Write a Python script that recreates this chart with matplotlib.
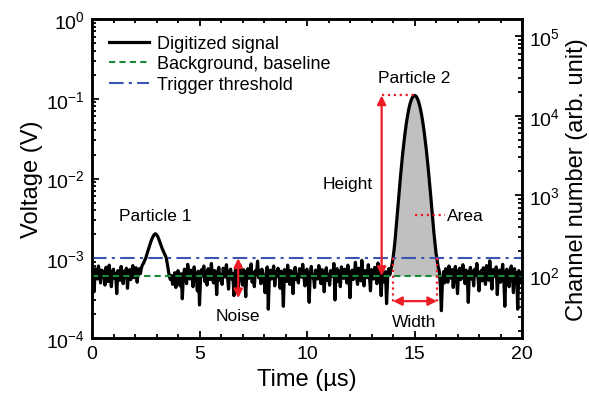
import numpy as np
import matplotlib
matplotlib.use("Agg")
import matplotlib.pyplot as plt
from matplotlib.ticker import MultipleLocator, LogLocator

plt.rcParams["font.family"] = ["Liberation Sans", "DejaVu Sans"]
plt.rcParams["mathtext.default"] = "regular"

# Digitized signal, in units of 1e-4 V, sampled every 0.05 us from 0 to 20 us
t_step = 0.05
noise_a = [5.2, 6.8, 3.8, 7.4, 6.1, 5.5, 8.0, 6.6, 4.9, 7.1,
           5.8, 6.9, 4.6, 7.7, 6.3, 5.1, 8.2, 6.0, 4.4, 6.7,
           7.3, 5.6, 6.4, 3.6, 7.0, 6.2, 5.3, 7.9, 6.5, 4.8,
           6.9, 5.9, 7.5, 4.2, 6.6, 7.2, 5.4, 6.8, 8.1, 5.7,
           6.3, 7.6, 5.0, 6.9, 7.4, 6.4]
particle_1 = [7.6, 8.3, 8.7, 9.4, 10.0, 11.2, 12.3, 13.6, 15.0, 16.5,
              17.8, 19.0, 19.9, 20.3, 19.8, 18.9, 17.6, 16.2, 14.8, 13.5,
              12.6, 11.7, 11.0, 10.2, 8.6, 7.0, 5.8]
noise_b = [5.4, 6.1, 4.7, 5.0, 6.6, 4.3, 5.8, 7.0, 5.2, 4.5,
           6.4, 3.1, 5.9, 7.3, 6.0, 4.8, 8.4, 6.7, 5.5, 7.1,
           6.2, 4.4, 7.8, 6.5, 5.7, 3.9, 6.9, 2.6, 5.6, 7.2,
           6.0, 8.0, 5.1, 6.7, 4.6, 7.4, 6.3, 5.4, 8.6, 6.1,
           4.9, 7.0, 6.4, 3.5, 6.8, 7.7, 5.3, 6.2, 4.7, 7.5,
           6.6, 5.8, 8.3, 6.0, 4.1, 6.9, 7.3, 5.5, 6.4, 3.4,
           6.7, 7.6, 5.2, 4.0, 6.5, 8.1, 6.0, 4.6, 7.2, 5.9,
           3.3, 6.8, 7.4, 5.6, 6.2, 8.5, 5.0, 6.6, 4.4, 7.0,
           6.3, 9.2, 5.7, 6.9, 4.8, 7.3, 6.1, 5.3, 3.7, 6.7,
           7.8, 2.3, 6.0, 7.1, 5.5, 6.4, 8.0, 4.5, 6.8, 5.9,
           7.5, 6.2, 4.2, 6.9, 5.6, 2.5, 7.2, 6.5, 5.1, 8.2,
           6.0, 4.7, 7.0, 6.3, 3.6, 6.8, 7.7, 5.4, 6.1, 4.9,
           7.4, 6.6, 5.8, 8.4, 6.2, 4.5, 6.9, 7.3, 5.2, 2.8,
           6.4, 7.9, 5.7, 6.1, 4.3, 7.1, 6.7, 5.5, 8.1, 6.0,
           4.8, 7.2, 6.5, 3.8, 6.8, 7.6, 5.3, 6.3, 4.6, 7.0,
           6.2, 5.9, 8.6, 3.0, 6.6, 7.4, 5.1, 6.9, 4.4, 7.8,
           6.1, 5.6, 7.3, 6.4, 4.9, 8.2, 5.8, 3.2, 6.7, 7.1,
           5.4, 6.3, 8.9, 6.0, 4.7, 7.5, 6.6, 5.2, 9.4, 6.2,
           4.5, 7.0, 6.8, 5.7, 8.3, 6.1, 3.9, 7.2, 6.4, 5.5,
           7.7, 6.0, 4.8, 8.7, 6.5, 5.9, 3.4, 7.1, 6.3, 5.0,
           6.8, 2.7, 5.6, 7.4, 6.2]
particle_2 = [7.2, 8.2, 10.0, 12.9, 17.5, 24.9, 36, 52, 76, 108,
              151, 206, 274, 357, 451, 556, 666, 776, 880, 970,
              1040, 1085, 1100, 1088, 1048, 982, 896, 798, 690, 582,
              478, 383, 298, 228, 170, 123, 88, 62, 43, 30,
              21, 15.4, 11.6, 9.6, 7.8, 6.9]
noise_c = [4.6, 2.2, 5.3, 6.8, 4.9, 7.4, 6.1, 5.0, 8.0, 6.5,
           5.6, 7.2, 4.3, 6.6, 7.9, 5.8, 3.6, 6.9, 7.5, 5.4,
           6.2, 8.3, 6.0, 4.8, 7.1, 6.4, 2.8, 6.7, 7.7, 5.5,
           6.9, 4.5, 7.3, 6.1, 8.6, 5.7, 3.9, 6.3, 7.0, 5.2,
           7.6, 6.0, 4.7, 8.1, 6.6, 5.3, 9.3, 6.2, 4.1, 7.2,
           6.5, 5.9, 7.8, 3.5, 6.8, 7.1, 5.0, 6.4, 8.4, 5.6,
           2.5, 6.7, 7.3, 5.8, 4.4, 6.9, 8.0, 6.1, 3.7, 7.4,
           5.5, 6.6, 2.3, 7.0, 6.2, 4.9, 6.4]

baseline = 6e-4
threshold = 1e-3
peak2_time = 15.0
peak2_height = 0.11
width_start, width_end = 14.0, 16.05
height_arrow_x = 13.47
noise_arrow_x = 6.8
noise_low = 3.16e-4
width_arrow_y = 2.9e-4
channel_factor = 10 ** 5.2125  # channel number per volt

signal = np.array(noise_a + particle_1 + noise_b + particle_2 + noise_c) * 1e-4
time = np.arange(len(signal)) * t_step

red = "#ee1c24"

fig = plt.figure(figsize=(5.89, 4.06), dpi=100)
ax = fig.add_axes([0.1562, 0.165, 0.7301, 0.7857])

# shaded area of particle 2
mask = (time >= width_start) & (time <= width_end)
ax.fill_between(time[mask], baseline, signal[mask], color="#c0c0c0", lw=0, zorder=1)

ax.plot(time, signal, color="black", lw=2.3, label="Digitized signal", zorder=2)
ax.axhline(baseline, color="#1a8a3a", ls=(0, (3, 2)), lw=1.5,
           label="Background, baseline", zorder=3)
ax.axhline(threshold, color="#3a55b4", ls=(0, (7, 2.5, 1.5, 2.5)), lw=1.5,
           label="Trigger threshold", zorder=3)

arrow = dict(arrowstyle="<|-|>", color=red, lw=1.6, mutation_scale=13,
             shrinkA=0, shrinkB=0)
# height
ax.annotate("", xy=(height_arrow_x, peak2_height), xytext=(height_arrow_x, baseline),
            arrowprops=arrow, zorder=5)
ax.plot([height_arrow_x, peak2_time], [peak2_height, peak2_height], color=red,
        ls=":", lw=1.6, zorder=5)
# width
ax.plot([width_start, width_start], [threshold, width_arrow_y * 0.92], color=red,
        ls=":", lw=1.6, zorder=5)
ax.plot([width_end, width_end], [threshold, width_arrow_y * 0.92], color=red,
        ls=":", lw=1.6, zorder=5)
ax.annotate("", xy=(width_start, width_arrow_y), xytext=(width_end, width_arrow_y),
            arrowprops=arrow, zorder=5)
# noise
ax.annotate("", xy=(noise_arrow_x, threshold), xytext=(noise_arrow_x, noise_low),
            arrowprops=arrow, zorder=5)
# area
ax.plot([15.0, 16.4], [3.45e-3, 3.45e-3], color=red, ls=":", lw=1.6, zorder=5)

fs = 12.5
ax.text(2.95, 3.45e-3, "Particle 1", ha="center", va="center", fontsize=fs)
ax.text(15.0, 0.183, "Particle 2", ha="center", va="center", fontsize=fs)
ax.text(16.5, 3.45e-3, "Area", ha="left", va="center", fontsize=fs)
ax.text(13.05, 8.7e-3, "Height", ha="right", va="center", fontsize=fs)
ax.text(15.0, 1.63e-4, "Width", ha="center", va="center", fontsize=fs)
ax.text(noise_arrow_x, 1.94e-4, "Noise", ha="center", va="center", fontsize=fs)

ax.set_yscale("log")
ax.set_xlim(0, 20)
ax.set_ylim(1e-4, 1)
ax.xaxis.set_major_locator(MultipleLocator(5))
ax.xaxis.set_minor_locator(MultipleLocator(1))
ax.yaxis.set_major_locator(LogLocator(base=10, numticks=10))
ax.yaxis.set_minor_locator(LogLocator(base=10, subs=np.arange(2, 10), numticks=10))
ax.set_xlabel("Time (µs)", fontsize=17, labelpad=4)
ax.set_ylabel("Voltage (V)", fontsize=17, labelpad=2)
ax.tick_params(which="both", direction="in", top=True, right=False, width=1.3)
ax.tick_params(which="major", length=5, labelsize=14, pad=5)
ax.tick_params(which="minor", length=3)

ax2 = ax.twinx()
ax2.set_yscale("log")
ax2.set_ylim(1e-4 * channel_factor, 1 * channel_factor)
ax2.yaxis.set_major_locator(LogLocator(base=10, numticks=10))
ax2.yaxis.set_minor_locator(LogLocator(base=10, subs=np.arange(2, 10), numticks=10))
ax2.set_ylabel("Channel number (arb. unit)", fontsize=17, labelpad=4)
ax2.tick_params(which="both", direction="in", width=1.3)
ax2.tick_params(which="major", length=5, labelsize=14, pad=5)
ax2.tick_params(which="minor", length=3)

for a in (ax, ax2):
    for s in a.spines.values():
        s.set_linewidth(1.8)

ax.legend(loc="upper left", bbox_to_anchor=(0.01, 0.99), frameon=False,
          fontsize=13, handlelength=2.2, handletextpad=0.45, labelspacing=0.2,
          borderaxespad=0.3)

fig.savefig("out.png", dpi=100)
